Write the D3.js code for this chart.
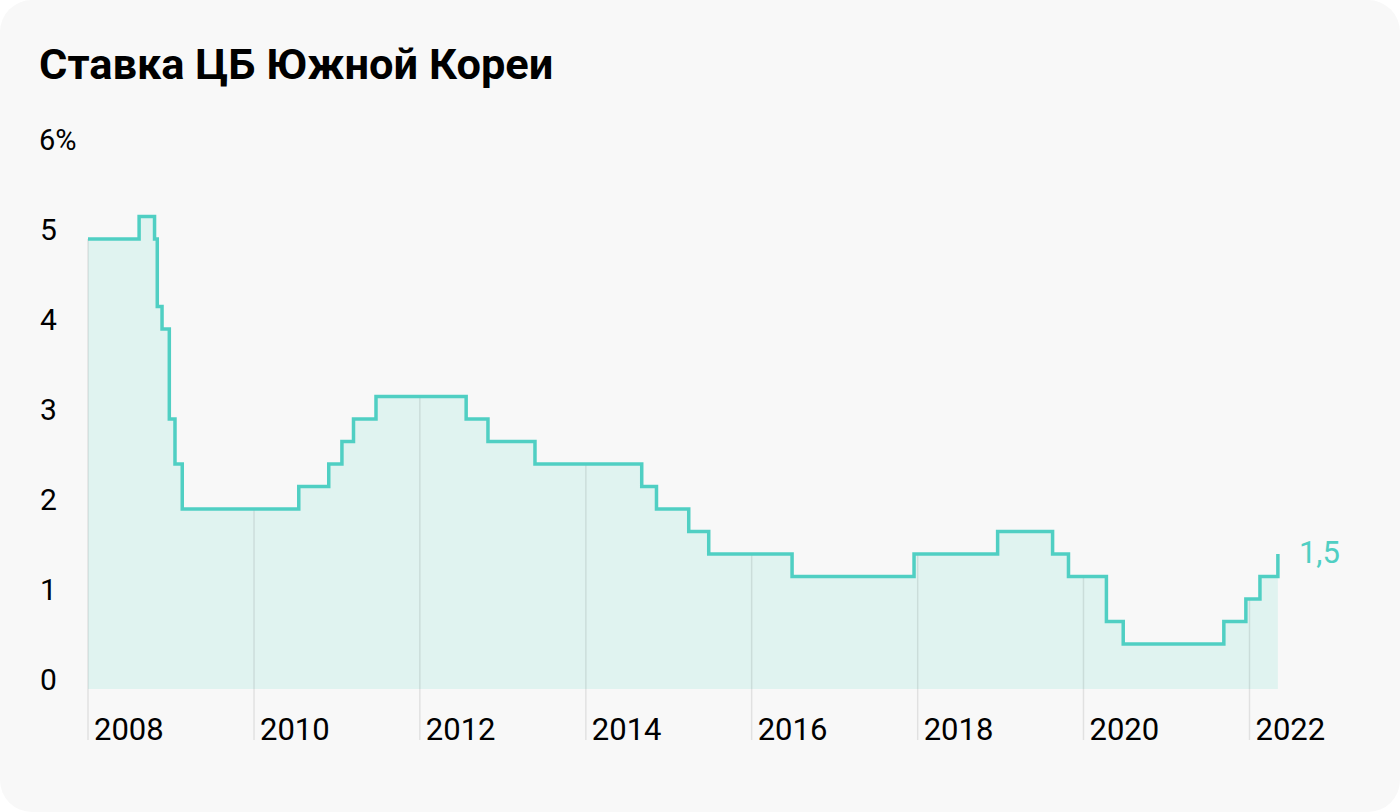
<!DOCTYPE html>
<html>
<head>
<meta charset="utf-8">
<script src="https://cdn.jsdelivr.net/npm/d3@7"></script>
<style>
  html, body { margin: 0; padding: 0; background: #ffffff; }
  svg { display: block; font-family: Roboto, "Noto Sans", sans-serif; }
</style>
</head>
<body>
<svg id="chart" width="1400" height="812"></svg>
<script>
// ---- Data ----
const title = "Ставка ЦБ Южной Кореи";
const stepDates = [
  "2008-01-01", "2008-08-13", "2008-10-20", "2008-11-01", "2008-11-22", "2008-12-24",
  "2009-01-18", "2009-02-19", "2010-07-17", "2010-11-26", "2011-01-23", "2011-03-15",
  "2011-06-22", "2012-07-23", "2012-10-27", "2013-05-22", "2014-09-04", "2014-11-08",
  "2015-03-30", "2015-06-26", "2016-06-27", "2017-12-16", "2018-12-19", "2019-08-18",
  "2019-10-27", "2020-04-11", "2020-06-24", "2021-09-10", "2021-12-16", "2022-02-16",
  "2022-05-06"
];
const rates = [
  5.00, 5.25, 5.00, 4.25, 4.00, 3.00,
  2.50, 2.00, 2.25, 2.50, 2.75, 3.00,
  3.25, 3.00, 2.75, 2.50, 2.25, 2.00,
  1.75, 1.50, 1.25, 1.50, 1.75, 1.50,
  1.25, 0.75, 0.50, 0.75, 1.00, 1.25,
  1.50
];
const yTicks = [0, 1, 2, 3, 4, 5, 6];
const yTickLabels = ["0", "1", "2", "3", "4", "5", "6%"];
const xTickYears = [2008, 2010, 2012, 2014, 2016, 2018, 2020, 2022];
const lastLabel = "1,5";

// ---- Setup ----
const W = 1400, H = 812;
const svg = d3.select("#chart");
const parse = d3.timeParse("%Y-%m-%d");
const data = stepDates.map((d, i) => ({ date: parse(d), v: rates[i] }));

const teal = "#50cfc3";
const fillCol = "#e0f3f0";

svg.append("rect").attr("x", 0).attr("y", 0).attr("width", W).attr("height", H)
  .attr("rx", 32).attr("fill", "#f8f8f8");

const x = d3.scaleTime()
  .domain([new Date(2008, 0, 1), new Date(2022, 0, 1)])
  .range([88, 1249.5]);
const y = d3.scaleLinear().domain([0, 6]).range([689, 149]);

// Title
svg.append("text").attr("x", 39).attr("y", 79)
  .attr("font-size", 43.4).attr("font-weight", 700).attr("fill", "#000")
  .text(title);

// Area
const area = d3.area().curve(d3.curveStepAfter)
  .x(d => x(d.date)).y0(y(0)).y1(d => y(d.v));
svg.append("path").datum(data).attr("d", area).attr("fill", fillCol);

// Grid lines (from value at tick down to below axis)
function valueAt(t) {
  let v = rates[0];
  for (const d of data) { if (d.date <= t) v = d.v; }
  return v;
}
const gridBottom = 740;
const gx = svg.append("g");
xTickYears.forEach(yr => {
  const t = new Date(yr, 0, 1);
  const xx = x(t);
  gx.append("line").attr("x1", xx).attr("x2", xx)
    .attr("y1", y(valueAt(t))).attr("y2", gridBottom)
    .attr("stroke", "rgba(0,0,0,0.09)").attr("stroke-width", 1.5);
  gx.append("text").attr("x", xx + 6).attr("y", 740)
    .attr("font-size", 31).attr("fill", "#000").text(yr);
});

// Line
const line = d3.line().curve(d3.curveStepAfter)
  .x(d => x(d.date)).y(d => y(d.v));
svg.append("path").datum(data).attr("d", line)
  .attr("fill", "none").attr("stroke", teal).attr("stroke-width", 3.5)
  .attr("stroke-linejoin", "miter").attr("stroke-linecap", "butt");

// Y labels
yTicks.forEach((t, i) => {
  svg.append("text").attr("x", i === 6 ? 39 : 40).attr("y", y(t) + 1)
    .attr("font-size", i === 6 ? 29 : 30).attr("fill", "#000").text(yTickLabels[i]);
});

// Last value label
const last = data[data.length - 1];
svg.append("text").attr("x", x(last.date) + 21).attr("y", y(last.v) + 9)
  .attr("font-size", 31).attr("fill", teal).text(lastLabel);
</script>
</body>
</html>
